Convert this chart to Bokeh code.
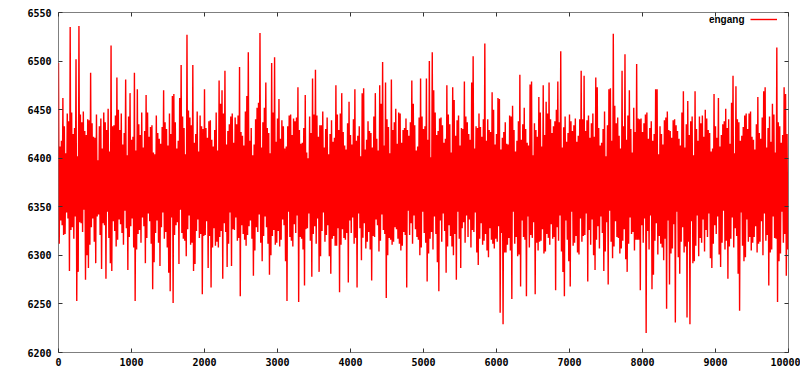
from bokeh.plotting import figure
from bokeh.models import (Range1d, LinearAxis, FixedTicker, Legend, LegendItem, Label,
                          ColumnDataSource, CustomLabelingPolicy)
from bokeh.embed import file_html
from bokeh.resources import INLINE

series_name = "engang"
sample_step = 10
# values read (estimated) from the picture: alternating local highs and lows along x
engang = [
    6498, 6312, 6412, 6336, 6418, 6331, 6462, 6321, 6433, 6322, 6405, 6344, 6446, 6338, 6438, 6284, 6535, 6326, 6447, 6329, 6425, 6317, 6431, 6340, 6502, 6253, 6402, 6283, 6536, 6334, 6445, 6333, 6437, 6324, 6448, 6347, 6428, 6275, 6424, 6300,
    6440, 6287, 6439, 6311, 6488, 6329, 6436, 6338, 6422, 6314, 6421, 6292, 6445, 6340, 6398, 6342, 6433, 6321, 6441, 6286, 6410, 6333, 6447, 6331, 6437, 6276, 6429, 6345, 6451, 6318, 6407, 6292, 6516, 6284, 6433, 6335, 6434, 6325, 6444, 6309,
    6483, 6316, 6450, 6337, 6429, 6332, 6446, 6323, 6414, 6311, 6426, 6346, 6481, 6328, 6403, 6285, 6443, 6319, 6467, 6330, 6419, 6338, 6422, 6308, 6488, 6253, 6408, 6306, 6471, 6322, 6435, 6326, 6424, 6313, 6447, 6339, 6411, 6330, 6428, 6292,
    6465, 6318, 6447, 6343, 6422, 6335, 6432, 6312, 6434, 6265, 6406, 6293, 6404, 6323, 6444, 6336, 6426, 6313, 6420, 6289, 6415, 6329, 6432, 6344, 6470, 6317, 6437, 6324, 6430, 6308, 6413, 6282, 6446, 6263, 6425, 6339, 6464, 6251, 6466, 6321,
    6437, 6331, 6410, 6334, 6418, 6291, 6462, 6347, 6496, 6323, 6443, 6317, 6431, 6315, 6404, 6299, 6527, 6327, 6449, 6341, 6442, 6311, 6434, 6313, 6496, 6284, 6416, 6291, 6425, 6325, 6448, 6337, 6407, 6318, 6444, 6322, 6433, 6260, 6430, 6320,
    6471, 6321, 6431, 6335, 6421, 6287, 6438, 6320, 6439, 6267, 6419, 6308, 6412, 6328, 6429, 6310, 6447, 6314, 6408, 6308, 6480, 6319, 6456, 6325, 6470, 6276, 6446, 6333, 6490, 6324, 6414, 6288, 6428, 6312, 6435, 6344, 6443, 6289, 6446, 6327,
    6416, 6326, 6442, 6339, 6435, 6315, 6444, 6318, 6494, 6258, 6427, 6331, 6423, 6322, 6413, 6316, 6448, 6310, 6464, 6321, 6509, 6330, 6418, 6336, 6431, 6317, 6403, 6279, 6414, 6305, 6440, 6329, 6452, 6324, 6457, 6342, 6529, 6313, 6411, 6294,
    6437, 6320, 6452, 6340, 6478, 6329, 6431, 6312, 6426, 6280, 6405, 6300, 6498, 6320, 6447, 6326, 6504, 6311, 6417, 6313, 6441, 6325, 6461, 6309, 6420, 6316, 6439, 6337, 6433, 6331, 6410, 6294, 6412, 6253, 6433, 6345, 6444, 6319, 6445, 6315,
    6424, 6309, 6441, 6332, 6438, 6323, 6442, 6341, 6473, 6252, 6429, 6319, 6415, 6317, 6416, 6306, 6431, 6269, 6465, 6327, 6406, 6328, 6400, 6343, 6443, 6315, 6426, 6278, 6482, 6322, 6445, 6330, 6491, 6312, 6444, 6338, 6422, 6283, 6434, 6299,
    6434, 6325, 6448, 6344, 6411, 6314, 6430, 6321, 6442, 6331, 6404, 6299, 6425, 6281, 6439, 6317, 6417, 6320, 6421, 6310, 6475, 6310, 6445, 6328, 6429, 6262, 6446, 6311, 6467, 6327, 6427, 6318, 6413, 6316, 6409, 6323, 6436, 6272, 6458, 6336,
    6424, 6323, 6414, 6339, 6440, 6312, 6471, 6318, 6418, 6267, 6423, 6343, 6433, 6328, 6402, 6295, 6467, 6318, 6472, 6333, 6409, 6307, 6419, 6314, 6438, 6324, 6428, 6306, 6426, 6274, 6411, 6320, 6443, 6319, 6467, 6337, 6420, 6331, 6408, 6304,
    6475, 6315, 6456, 6342, 6499, 6326, 6413, 6322, 6478, 6256, 6440, 6300, 6432, 6318, 6405, 6316, 6481, 6311, 6429, 6314, 6437, 6329, 6451, 6327, 6415, 6317, 6447, 6312, 6446, 6305, 6416, 6310, 6429, 6324, 6431, 6321, 6441, 6267, 6429, 6346,
    6423, 6321, 6437, 6333, 6480, 6312, 6456, 6341, 6434, 6327, 6408, 6319, 6412, 6316, 6442, 6300, 6482, 6308, 6443, 6345, 6430, 6323, 6433, 6313, 6482, 6273, 6419, 6302, 6500, 6317, 6401, 6324, 6509, 6306, 6470, 6340, 6447, 6322, 6424, 6293,
    6428, 6263, 6441, 6336, 6442, 6314, 6434, 6343, 6416, 6325, 6420, 6282, 6475, 6309, 6445, 6331, 6435, 6320, 6406, 6309, 6473, 6300, 6460, 6322, 6423, 6275, 6439, 6345, 6444, 6317, 6413, 6287, 6431, 6328, 6430, 6334, 6479, 6313, 6443, 6341,
    6437, 6319, 6425, 6337, 6419, 6308, 6478, 6326, 6505, 6324, 6410, 6344, 6433, 6303, 6431, 6290, 6446, 6317, 6432, 6333, 6422, 6311, 6440, 6315, 6518, 6322, 6418, 6305, 6440, 6298, 6429, 6328, 6427, 6316, 6468, 6312, 6450, 6307, 6414, 6317,
    6425, 6314, 6462, 6330, 6461, 6241, 6409, 6323, 6421, 6229, 6427, 6303, 6437, 6303, 6415, 6311, 6414, 6318, 6444, 6305, 6443, 6255, 6454, 6345, 6429, 6312, 6407, 6319, 6418, 6299, 6438, 6301, 6486, 6268, 6419, 6336, 6435, 6319, 6452, 6316,
    6430, 6258, 6416, 6340, 6413, 6308, 6476, 6321, 6479, 6318, 6403, 6334, 6436, 6260, 6429, 6313, 6422, 6305, 6463, 6314, 6447, 6315, 6412, 6327, 6475, 6302, 6424, 6304, 6458, 6322, 6446, 6318, 6478, 6311, 6440, 6332, 6426, 6317, 6433, 6319,
    6438, 6264, 6450, 6329, 6479, 6315, 6437, 6341, 6510, 6304, 6411, 6283, 6432, 6258, 6443, 6336, 6417, 6316, 6426, 6294, 6445, 6268, 6438, 6345, 6428, 6310, 6434, 6313, 6441, 6320, 6417, 6303, 6423, 6301, 6440, 6338, 6490, 6314, 6440, 6320,
    6485, 6321, 6428, 6343, 6439, 6273, 6444, 6326, 6421, 6311, 6436, 6337, 6446, 6300, 6422, 6285, 6483, 6316, 6473, 6330, 6431, 6307, 6413, 6340, 6416, 6323, 6430, 6284, 6448, 6304, 6402, 6334, 6434, 6270, 6471, 6346, 6472, 6314, 6418, 6297,
    6528, 6309, 6454, 6335, 6436, 6319, 6442, 6318, 6423, 6302, 6410, 6307, 6490, 6315, 6433, 6327, 6507, 6296, 6419, 6283, 6444, 6312, 6470, 6339, 6430, 6322, 6406, 6324, 6452, 6305, 6427, 6316, 6497, 6316, 6441, 6316, 6440, 6264, 6441, 6331,
    6427, 6313, 6436, 6338, 6445, 6220, 6447, 6325, 6420, 6306, 6431, 6341, 6438, 6265, 6418, 6280, 6425, 6315, 6471, 6333, 6471, 6301, 6404, 6320, 6433, 6312, 6425, 6308, 6414, 6295, 6439, 6317, 6442, 6245, 6448, 6336, 6429, 6270, 6428, 6302,
    6421, 6307, 6439, 6332, 6440, 6231, 6434, 6345, 6428, 6298, 6420, 6281, 6413, 6314, 6447, 6329, 6469, 6303, 6411, 6309, 6435, 6236, 6459, 6314, 6424, 6229, 6438, 6335, 6443, 6292, 6403, 6294, 6469, 6310, 6430, 6341, 6418, 6299, 6443, 6318,
    6436, 6313, 6444, 6337, 6422, 6304, 6450, 6326, 6441, 6319, 6429, 6343, 6426, 6297, 6407, 6287, 6410, 6312, 6466, 6331, 6433, 6322, 6421, 6340, 6462, 6301, 6412, 6288, 6424, 6313, 6435, 6346, 6438, 6306, 6451, 6315, 6431, 6276, 6440, 6309,
    6415, 6317, 6457, 6339, 6485, 6308, 6405, 6328, 6474, 6320, 6440, 6281, 6437, 6243, 6418, 6344, 6423, 6310, 6432, 6294, 6444, 6298, 6446, 6337, 6430, 6314, 6446, 6319, 6448, 6305, 6422, 6313, 6419, 6319, 6409, 6330, 6435, 6303, 6463, 6312,
    6426, 6314, 6420, 6335, 6442, 6300, 6469, 6343, 6473, 6315, 6411, 6321, 6431, 6269, 6443, 6303, 6417, 6306, 6456, 6340, 6445, 6318, 6406, 6317, 6514, 6252, 6437, 6294, 6433, 6302, 6416, 6345, 6424, 6313, 6473, 6322, 6466, 6279, 6425, 6306,
]
samples = [i * sample_step for i in range(len(engang))]

x_ticks = [0, 1000, 2000, 3000, 4000, 5000, 6000, 7000, 8000, 9000, 10000]
y_ticks = [6200, 6250, 6300, 6350, 6400, 6450, 6500, 6550]

TICK_FONT = "DejaVu Sans Mono"
FRAME = "#7f7f7f"

p = figure(width=800, height=375, output_backend="svg", toolbar_location=None,
           x_range=Range1d(0, 10000), y_range=Range1d(6200, 6550),
           min_border_left=58, min_border_right=12, min_border_top=12, min_border_bottom=23,
           background_fill_color="white", border_fill_color="white")
p.grid.visible = False
p.outline_line_color = FRAME
p.outline_line_width = 1

src = ColumnDataSource(dict(x=samples, y=engang))
r = p.line("x", "y", source=src, line_color="#ff0000", line_width=1.4)

no_labels = CustomLabelingPolicy(code="""
for (let i = 0; i < indices.size; i++) { indices.unset(i) }
return indices
""")

def style_axis(ax, ticks, show_labels, standoff):
    ax.ticker = FixedTicker(ticks=ticks)
    ax.axis_line_color = None
    ax.major_tick_in = 4
    ax.major_tick_out = 0
    ax.major_tick_line_color = "#333333"
    ax.minor_tick_line_color = None
    ax.major_label_standoff = standoff
    ax.major_label_text_font = TICK_FONT
    ax.major_label_text_font_style = "bold"
    ax.major_label_text_color = "black"
    if show_labels:
        ax.major_label_text_font_size = "10px"
    else:
        ax.major_label_text_font_size = "0px"
        ax.major_label_policy = no_labels

style_axis(p.xaxis[0], x_ticks, True, 5)
style_axis(p.yaxis[0], y_ticks, True, 7)
top = LinearAxis()
right = LinearAxis()
style_axis(top, x_ticks, False, 0)
style_axis(right, y_ticks, False, 0)
p.add_layout(top, "above")
p.add_layout(right, "right")

legend = Legend(items=[LegendItem(label=" ", renderers=[r])],
                location=(692, 326), padding=0, margin=0, spacing=0,
                glyph_width=27, glyph_height=14, label_height=14,
                label_standoff=0, label_text_font_size="10px",
                border_line_color=None, background_fill_alpha=0)
p.add_layout(legend)
p.add_layout(Label(x=686, y=333, x_units="screen", y_units="screen", text=series_name,
                   text_align="right", text_baseline="middle",
                   text_font="Liberation Sans", text_font_style="bold",
                   text_font_size="10px", text_color="black"))

open("out.html", "w").write(file_html(p, INLINE))
